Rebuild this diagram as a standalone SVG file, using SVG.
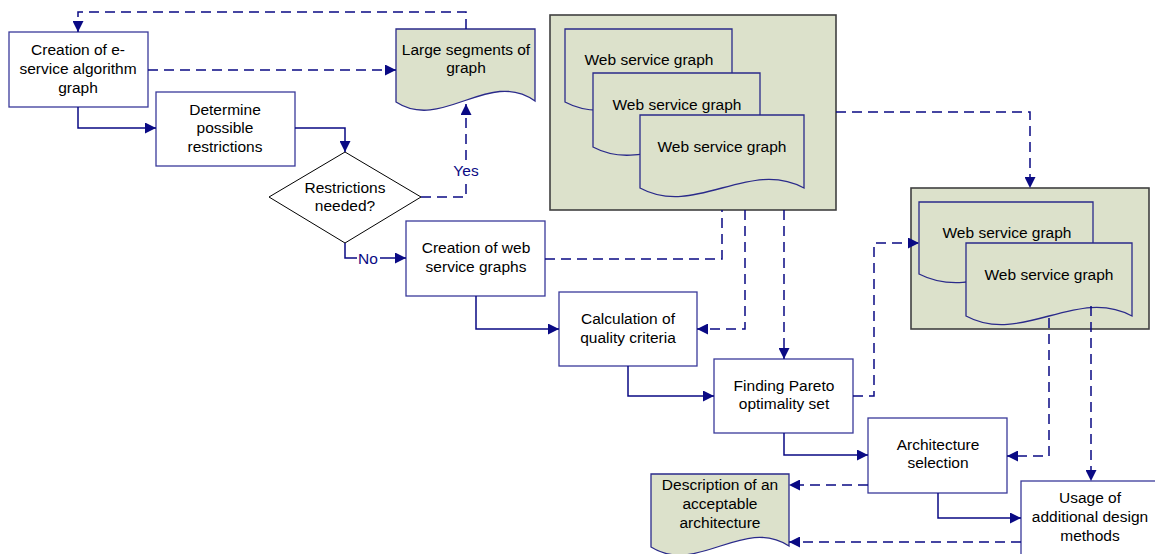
<svg xmlns="http://www.w3.org/2000/svg" width="1155" height="554" viewBox="0 0 1155 554">
<style>
text{font-family:"Liberation Sans",Arial,sans-serif;font-size:15.5px;fill:#000;text-anchor:middle}
.lbl{fill:#0a0a84}
.box{fill:#fff;stroke:#3a3a9a;stroke-width:1.3}
.doc{fill:#dce1cb;stroke:#2a2a8a;stroke-width:1.3}
.cont{fill:#dce1cb;stroke:#404040;stroke-width:1.6}
.dia{fill:#fff;stroke:#000;stroke-width:1}
.s{fill:none;stroke:#0a0a84;stroke-width:1.5}
.d{fill:none;stroke:#0a0a84;stroke-width:1.5;stroke-dasharray:10 6}
</style>
<defs>
<marker id="ah" markerUnits="userSpaceOnUse" markerWidth="11" markerHeight="11" refX="10" refY="5" orient="auto" viewBox="0 0 10 10">
<path d="M0,0 L10,5 L0,10 z" fill="#0a0a84"/>
</marker>
</defs>
<rect width="1155" height="554" fill="#fff"/>

<g id="n-creation-eservice">
<rect class="box" x="9" y="32" width="139" height="75"/>
<text x="78" y="55">Creation of e-</text>
<text x="78" y="74">service algorithm</text>
<text x="78" y="93">graph</text>
</g>
<g id="n-determine">
<rect class="box" x="156" y="92" width="139" height="74"/>
<text x="225" y="115">Determine</text>
<text x="225" y="133">possible</text>
<text x="225" y="152">restrictions</text>
</g>
<g id="n-restrictions-needed">
<path class="dia" d="M345,152 L421,197 L345,243 L269,197 Z"/>
<text x="345" y="193">Restrictions</text>
<text x="345" y="211">needed?</text>
</g>
<g id="n-large-segments">
<path class="doc" d="M396,29 H535 V101 C489,68 442,132 396,102 Z"/>
<text x="466" y="55">Large segments of</text>
<text x="466" y="73">graph</text>
</g>
<g id="n-ws-container1">
<rect class="cont" x="550" y="15" width="286" height="195"/>
<path class="doc" d="M565,29 H732 V101 C676,68 621,132 565,102 Z"/>
<text x="649" y="65">Web service graph</text>
<path class="doc" d="M593,73 H760 V146 C704,113 649,177 593,147 Z"/>
<text x="677" y="110">Web service graph</text>
<path class="doc" d="M640,115 H804 V188 C749,158 695,218 640,188 Z"/>
<text x="722" y="152">Web service graph</text>
</g>
<g id="n-ws-container2">
<rect class="cont" x="911" y="188" width="238" height="141"/>
<path class="doc" d="M919,202 H1093 V273 C1035,244 977,304 919,274 Z"/>
<text x="1007" y="238">Web service graph</text>
<path class="doc" d="M966,243 H1132 V316 C1077,286 1021,346 966,316 Z"/>
<text x="1049" y="280">Web service graph</text>
</g>
<g id="n-creation-ws">
<rect class="box" x="406" y="221" width="139" height="75"/>
<text x="476" y="253">Creation of web</text>
<text x="476" y="272">service graphs</text>
</g>
<g id="n-calculation">
<rect class="box" x="559" y="292" width="138" height="74"/>
<text x="628" y="324">Calculation of</text>
<text x="628" y="343">quality criteria</text>
</g>
<g id="n-pareto">
<rect class="box" x="714" y="359" width="139" height="74"/>
<text x="784" y="391">Finding Pareto</text>
<text x="784" y="409">optimality set</text>
</g>
<g id="n-architecture">
<rect class="box" x="868" y="418" width="139" height="75"/>
<text x="938" y="450">Architecture</text>
<text x="938" y="468">selection</text>
</g>
<g id="n-description">
<path class="doc" d="M651,474 H789 V546 C743,516 697,576 651,547 Z"/>
<text x="720" y="490">Description of an</text>
<text x="720" y="509">acceptable</text>
<text x="720" y="528">architecture</text>
</g>
<g id="n-usage">
<rect class="box" x="1021" y="481" width="150" height="90"/>
<text x="1090" y="503">Usage of</text>
<text x="1090" y="522">additional design</text>
<text x="1090" y="541">methods</text>
</g>

<g id="connectors">
<path class="s" d="M78,107 V128 H156" marker-end="url(#ah)"/>
<path class="s" d="M295,128 H345 V152" marker-end="url(#ah)"/>
<path class="s" d="M345,243 V258 H357"/>
<text class="lbl" x="368" y="264">No</text>
<path class="s" d="M380,258 H406" marker-end="url(#ah)"/>
<path class="d" d="M421,197 H466 V181"/>
<text class="lbl" x="466" y="176">Yes</text>
<path class="d" d="M466,160 V104" marker-end="url(#ah)"/>
<path class="d" d="M148,70 H396" marker-end="url(#ah)"/>
<path class="d" d="M466,29 V12 H78 V32" marker-end="url(#ah)"/>
<path class="d" d="M545,259 H722 V210"/>
<path class="d" d="M745,210 V329 H697" marker-end="url(#ah)"/>
<path class="d" d="M784,210 V359" marker-end="url(#ah)"/>
<path class="s" d="M476,296 V329 H559" marker-end="url(#ah)"/>
<path class="s" d="M628,366 V396 H714" marker-end="url(#ah)"/>
<path class="d" d="M836,112 H1030 V188" marker-end="url(#ah)"/>
<path class="d" d="M853,396 H874 V243 H919" marker-end="url(#ah)"/>
<path class="s" d="M784,433 V455 H868" marker-end="url(#ah)"/>
<path class="d" d="M1049,318 V456 H1007" marker-end="url(#ah)"/>
<path class="d" d="M1091,306 V481" marker-end="url(#ah)"/>
<path class="s" d="M938,493 V518 H1021" marker-end="url(#ah)"/>
<path class="d" d="M868,485 H789" marker-end="url(#ah)"/>
<path class="d" d="M1021,542 H789" marker-end="url(#ah)"/>
</g>
</svg>
